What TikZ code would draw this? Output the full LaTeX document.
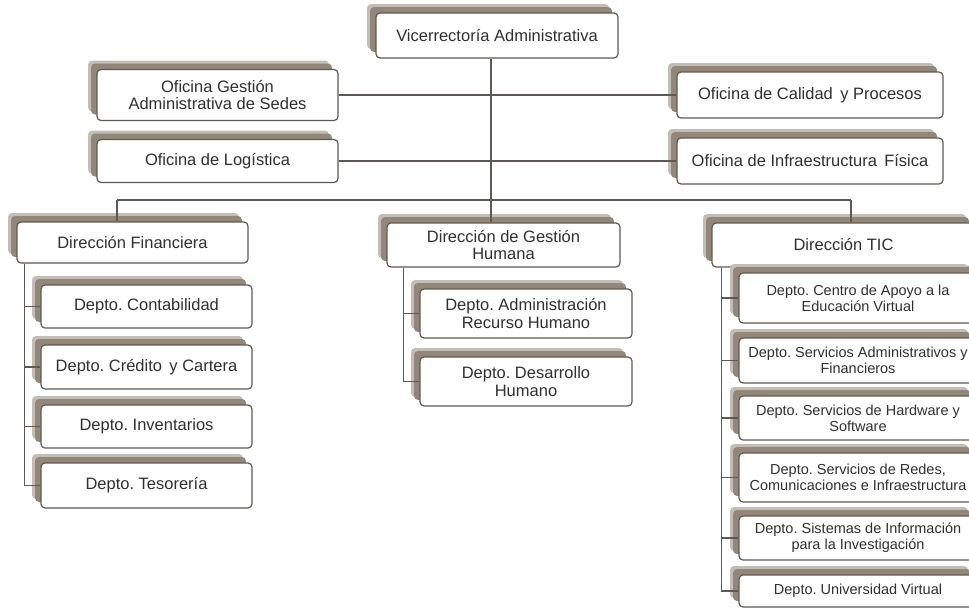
\documentclass[tikz,border=0pt]{standalone}
\usepackage{fontspec}
\setmainfont{Liberation Sans}
\usepackage{xcolor}
\usetikzlibrary{shadows,calc}
\frenchspacing

\definecolor{linec}{RGB}{94,89,84}
\definecolor{shadowc}{RGB}{146,135,121}
\definecolor{textc}{RGB}{48,48,48}

\begin{document}
\begin{tikzpicture}[x=1pt, y=-1pt,
    box/.style={draw=linec, line width=1.2pt, fill=white, rounded corners=4pt,
        align=center, inner sep=0pt, text=textc,
        font=\fontsize{16.5}{17.5}\selectfont,
        general shadow={fill=shadowc!55, shadow xshift=-9pt, shadow yshift=9pt},
        general shadow={fill=shadowc, shadow xshift=-6pt, shadow yshift=6pt}},
    ticbox/.style={box, font=\fontsize{14.5}{16}\selectfont},
    link/.style={draw=linec, line width=1.2pt}]
    \useasboundingbox (0,0) rectangle (969,608);
    \clip (0,0) rectangle (969,608);

    % Top level
    \node[box, minimum width=242pt, minimum height=45pt] (vice) at (497,35.5) {Vicerrectoría Administrativa};

    % Offices
    \node[box, minimum width=241pt, minimum height=51pt] (ofiGest) at (217.5,95) {Oficina Gestión\\Administrativa de Sedes};
    \node[box, minimum width=241pt, minimum height=43pt] (ofiLog) at (217.5,161) {Oficina de Logística};
    \node[box, minimum width=266pt, minimum height=46pt] (ofiCal) at (810,95) {Oficina de Calidad\, y Procesos};
    \node[box, minimum width=266pt, minimum height=46pt] (ofiInf) at (810,161) {Oficina de Infraestructura\, Física};

    % Directions
    \node[box, minimum width=231pt, minimum height=41pt] (dirFin) at (132.5,242.5) {Dirección Financiera};
    \node[box, minimum width=233pt, minimum height=44pt] (dirGH) at (503.5,245) {Dirección de Gestión\\Humana};
    \node[box, minimum width=263pt, minimum height=44pt] (dirTIC) at (843.5,245) {Dirección TIC};

    % Financiera departments
    \node[box, minimum width=211pt, minimum height=43pt] (cont) at (146.5,306.5) {Depto. Contabilidad};
    \node[box, minimum width=211pt, minimum height=44pt] (cred) at (146.5,367) {Depto. Crédito\, y Cartera};
    \node[box, minimum width=211pt, minimum height=43pt] (inv) at (146.5,426.5) {Depto. Inventarios};
    \node[box, minimum width=211pt, minimum height=45pt] (tes) at (146.5,485.5) {Depto. Tesorería};

    % Gestion Humana departments
    \node[box, minimum width=212pt, minimum height=49pt] (admRH) at (526,313.5) {Depto. Administración\\Recurso Humano};
    \node[box, minimum width=212pt, minimum height=49pt] (desH) at (526,381.5) {Depto. Desarrollo\\Humano};

    % TIC departments
    \node[ticbox, minimum width=238pt, minimum height=50pt] (apoyo) at (858,298) {Depto. Centro de Apoyo a la\\Educación Virtual};
    \node[ticbox, minimum width=238pt, minimum height=45pt] (servAF) at (858,360.5) {Depto. Servicios Administrativos y\\Financieros};
    \node[ticbox, minimum width=238pt, minimum height=44pt] (hard) at (858,418) {Depto. Servicios de Hardware y\\Software};
    \node[ticbox, minimum width=238pt, minimum height=49pt] (redes) at (858,477.5) {Depto. Servicios de Redes,\\Comunicaciones e Infraestructura};
    \node[ticbox, minimum width=238pt, minimum height=44pt] (sist) at (858,538) {Depto. Sistemas de Información\\para la Investigación};
    \node[ticbox, minimum width=238pt, minimum height=32pt] (univ) at (858,591) {Depto. Universidad Virtual};

    % Trunk and bus
    \coordinate (busL) at (117,200);
    \coordinate (busM) at (491,200);
    \coordinate (busR) at (851,200);
    \draw[link] (vice.south -| busM) -- (busM);
    \draw[link] (ofiGest.east) -- (ofiGest.east -| ofiCal.west);
    \draw[link] (ofiLog.east) -- (ofiLog.east -| ofiInf.west);
    \draw[link] (busL) -- (busR);
    \draw[link] (busL) -- (busL |- dirFin.north);
    \draw[link] (busM) -- (busM |- dirGH.north);
    \draw[link] (busR) -- (busR |- dirTIC.north);

    % Department links
    \coordinate (finX) at ($(dirFin.south west)+(8,0)$);
    \draw[link] (finX) |- (cont.west);
    \draw[link] (finX) |- (cred.west);
    \draw[link] (finX) |- (inv.west);
    \draw[link] (finX) |- (tes.west);

    \coordinate (ghX) at ($(dirGH.south west)+(17,0)$);
    \draw[link] (ghX) |- (admRH.west);
    \draw[link] (ghX) |- (desH.west);

    \coordinate (ticX) at ($(dirTIC.south west)+(10,0)$);
    \draw[link] (ticX) |- (apoyo.west);
    \draw[link] (ticX) |- (servAF.west);
    \draw[link] (ticX) |- (hard.west);
    \draw[link] (ticX) |- (redes.west);
    \draw[link] (ticX) |- (sist.west);
    \draw[link] (ticX) |- (univ.west);
\end{tikzpicture}
\end{document}
